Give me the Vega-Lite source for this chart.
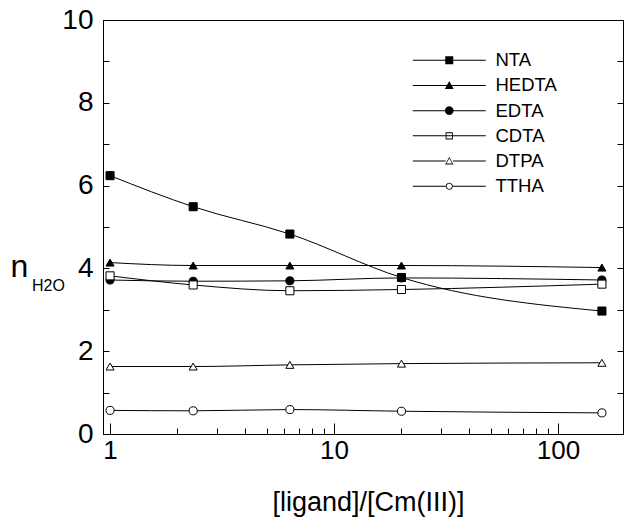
{
  "$schema": "https://vega.github.io/schema/vega-lite/v6.json",
  "width": 520,
  "height": 414,
  "autosize": {"type": "none"},
  "padding": {"left": 103, "top": 20, "right": 4, "bottom": 84},
  "background": "white",
  "config": {
    "view": {"stroke": "black", "strokeWidth": 1},
    "font": "Liberation Sans",
    "axis": {"grid": false, "domainColor": "black", "tickColor": "black", "labelColor": "black", "titleColor": "black", "titleFontWeight": "normal", "labelFont": "Liberation Sans", "titleFont": "Liberation Sans"}
  },
  "data": {"values": [
    {"series": "NTA", "ratio": 1, "n": 6.24},
    {"series": "NTA", "ratio": 2.35, "n": 5.49},
    {"series": "NTA", "ratio": 6.35, "n": 4.83},
    {"series": "NTA", "ratio": 20, "n": 3.78},
    {"series": "NTA", "ratio": 157, "n": 2.97},
    {"series": "HEDTA", "ratio": 1, "n": 4.14},
    {"series": "HEDTA", "ratio": 2.35, "n": 4.07},
    {"series": "HEDTA", "ratio": 6.35, "n": 4.07},
    {"series": "HEDTA", "ratio": 20, "n": 4.07},
    {"series": "HEDTA", "ratio": 157, "n": 4.02},
    {"series": "EDTA", "ratio": 1, "n": 3.72},
    {"series": "EDTA", "ratio": 2.35, "n": 3.69},
    {"series": "EDTA", "ratio": 6.35, "n": 3.7},
    {"series": "EDTA", "ratio": 20, "n": 3.77},
    {"series": "EDTA", "ratio": 157, "n": 3.72},
    {"series": "CDTA", "ratio": 1, "n": 3.82},
    {"series": "CDTA", "ratio": 2.35, "n": 3.6},
    {"series": "CDTA", "ratio": 6.35, "n": 3.46},
    {"series": "CDTA", "ratio": 20, "n": 3.49},
    {"series": "CDTA", "ratio": 157, "n": 3.62},
    {"series": "DTPA", "ratio": 1, "n": 1.63},
    {"series": "DTPA", "ratio": 2.35, "n": 1.63},
    {"series": "DTPA", "ratio": 6.35, "n": 1.67},
    {"series": "DTPA", "ratio": 20, "n": 1.7},
    {"series": "DTPA", "ratio": 157, "n": 1.72},
    {"series": "TTHA", "ratio": 1, "n": 0.57},
    {"series": "TTHA", "ratio": 2.35, "n": 0.56},
    {"series": "TTHA", "ratio": 6.35, "n": 0.59},
    {"series": "TTHA", "ratio": 20, "n": 0.55},
    {"series": "TTHA", "ratio": 157, "n": 0.51}
  ]},
  "layer": [
    {
      "mark": {"type": "line", "interpolate": "monotone", "stroke": "black", "strokeWidth": 1},
      "encoding": {
        "x": {"field": "ratio", "type": "quantitative",
          "scale": {"type": "log", "domain": [0.93, 195], "nice": false},
          "axis": {"orient": "bottom", "values": [1, 10, 100], "format": "d", "tickSize": -11, "labelPadding": 14, "labelFontSize": 26, "labelFlush": false,
            "title": "[ligand]/[Cm(III)]", "titleFontSize": 27, "titleX": 265, "titleY": 76, "titleBaseline": "alphabetic", "titleAlign": "center"}},
        "y": {"field": "n", "type": "quantitative",
          "scale": {"domain": [0, 10], "nice": false},
          "axis": {"orient": "left", "values": [0,1,2,3,4,5,6,7,8,9,10], "labelExpr": "datum.value % 2 == 0 ? datum.label : ''", "tickSize": -6, "labelPadding": 16, "labelFontSize": 28,
            "title": "n", "titleAngle": 0, "titleFontSize": 32, "titleX": -84, "titleY": 256, "titleBaseline": "alphabetic", "titleAlign": "center"}},
        "detail": {"field": "series"}
      }
    },
    {
      "mark": {"type": "point", "stroke": "black", "strokeWidth": 1, "opacity": 1, "size": 65},
      "encoding": {
        "x": {"field": "ratio", "type": "quantitative",
          "scale": {"type": "log", "domain": [0.93, 195], "nice": false},
          "axis": {"orient": "bottom", "values": [2,3,4,5,6,7,8,9,20,30,40,50,60,70,80,90], "labels": false, "domain": false, "tickSize": -6, "title": null}},
        "y": {"field": "n", "type": "quantitative",
          "scale": {"domain": [0, 10], "nice": false},
          "axis": {"orient": "right", "values": [0,1,2,3,4,5,6,7,8,9,10], "labels": false, "tickSize": -6,
            "title": "H2O", "titleAngle": 0, "titleFontSize": 16, "titleX": -575, "titleY": 270, "titleBaseline": "alphabetic", "titleAlign": "center"}},
        "shape": {"field": "series", "type": "nominal",
          "scale": {"domain": ["NTA", "HEDTA", "EDTA", "CDTA", "DTPA", "TTHA"], "range": ["square", "triangle-up", "circle", "square", "triangle-up", "circle"]},
          "legend": null},
        "fill": {"condition": {"test": "indexof(['NTA','HEDTA','EDTA'], datum.series) >= 0", "value": "black"}, "value": "white"}
      }
    },
    {
      "mark": {"type": "point", "filled": true, "color": "black", "strokeWidth": 0, "opacity": 0},
      "encoding": {
        "x": {"field": "ratio", "type": "quantitative", "scale": {"type": "log", "domain": [0.93, 195], "nice": false}, "axis": null},
        "y": {"field": "n", "type": "quantitative", "scale": {"domain": [0, 10], "nice": false}, "axis": null},
        "shape": {"field": "series", "type": "nominal",
          "scale": {"domain": ["NTA", "HEDTA", "EDTA", "CDTA", "DTPA", "TTHA"],
            "range": [
              "M-4.56,-0.06H4.56V0.06H-4.56Z M-0.5,-0.5H0.5V0.5H-0.5Z",
              "M-4.56,-0.06H4.56V0.06H-4.56Z M0,-0.55L0.55,0.45H-0.55Z",
              "M-4.56,-0.06H4.56V0.06H-4.56Z M0.55,0L0.476,0.275L0.275,0.476L0,0.55L-0.275,0.476L-0.476,0.275L-0.55,0L-0.476,-0.275L-0.275,-0.476L0,-0.55L0.275,-0.476L0.476,-0.275Z",
              "M-4.56,-0.06H4.56V0.06H-4.56Z M-0.45,-0.45H0.45V0.45H-0.45Z M-0.34,-0.34V0.34H0.34V-0.34Z",
              "M-4.56,-0.06H-0.45V0.06H-4.56Z M0.45,-0.06H4.56V0.06H0.45Z M0,-0.5L0.52,0.42H-0.52Z M0,-0.32L-0.36,0.32H0.36Z",
              "M-4.56,-0.06H-0.45V0.06H-4.56Z M0.45,-0.06H4.56V0.06H0.45Z M0.45,0L0.39,0.225L0.225,0.39L0,0.45L-0.225,0.39L-0.39,0.225L-0.45,0L-0.39,-0.225L-0.225,-0.39L0,-0.45L0.225,-0.39L0.39,-0.225Z M0.34,0L0.294,-0.17L0.17,-0.294L0,-0.34L-0.17,-0.294L-0.294,-0.17L-0.34,0L-0.294,0.17L-0.17,0.294L0,0.34L0.17,0.294L0.294,0.17Z"
            ]},
          "legend": {"orient": "none", "legendX": 337, "legendY": 31, "title": null, "padding": 0, "symbolSize": 256, "symbolOpacity": 1, "symbolFillColor": "black", "symbolStrokeWidth": 0, "rowPadding": 6.2, "labelOffset": 37, "labelFontSize": 18.5, "labelFont": "Liberation Sans", "labelColor": "black"}}
      }
    }
  ],
  "resolve": {"scale": {"shape": "independent"}, "axis": {"x": "independent", "y": "independent"}}
}
